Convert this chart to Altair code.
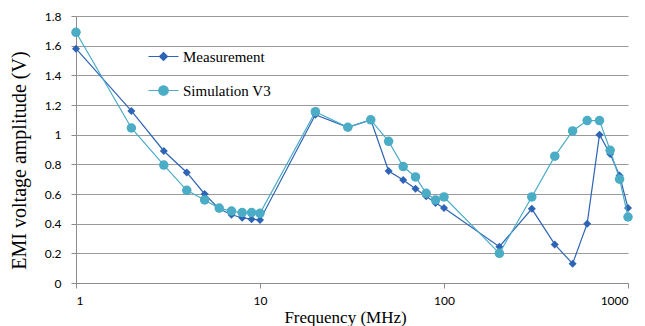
import altair as alt
import pandas as pd

freq = [1, 2, 3, 4, 5, 6, 7, 8, 9, 10, 20, 30, 40, 50, 60, 70, 80, 90, 100,
        200, 300, 400, 500, 600, 700, 800, 900, 1000]
measurement = [1.58, 1.16, 0.89, 0.745, 0.60, 0.50, 0.46, 0.44, 0.43, 0.425,
               1.135, 1.05, 1.10, 0.755, 0.695, 0.635, 0.585, 0.54, 0.505,
               0.245, 0.50, 0.26, 0.13, 0.40, 1.00, 0.87, 0.725, 0.505]
simulation = [1.69, 1.045, 0.795, 0.625, 0.56, 0.505, 0.485, 0.475, 0.475, 0.47,
              1.155, 1.05, 1.10, 0.955, 0.785, 0.715, 0.605, 0.56, 0.58,
              0.20, 0.58, 0.855, 1.025, 1.095, 1.095, 0.895, 0.70, 0.445]
series_names = ["Measurement", "Simulation V3"]
colors = ["#2E64B4", "#4BACC6"]
x_ticks = [1, 10, 100, 1000]
y_ticks = [0, 0.2, 0.4, 0.6, 0.8, 1.0, 1.2, 1.4, 1.6, 1.8]

rows = []
for f, m in zip(freq, measurement):
    rows.append({"freq": f, "value": m, "series": series_names[0]})
for f, s in zip(freq, simulation):
    rows.append({"freq": f, "value": s, "series": series_names[1]})
df = pd.DataFrame(rows)

x = alt.X("freq:Q", scale=alt.Scale(type="log", domain=[1, 1000]),
          axis=alt.Axis(values=x_ticks, format="~g", title="Frequency (MHz)",
                        grid=False, tickSize=5, labelPadding=7,
                        titleX=269, titleY=39, titleBaseline="alphabetic",
                        titleAlign="center", titleFontSize=17,
                        titleFont="Liberation Serif"))
y = alt.Y("value:Q", scale=alt.Scale(domain=[0, 1.8]),
          axis=alt.Axis(values=y_ticks, format="~g", title="EMI voltage amplitude (V)",
                        grid=True, tickSize=5, labelPadding=10,
                        titleX=-57, titleY=144, titleBaseline="middle",
                        titleAlign="center", titleAngle=270, titleFontSize=20,
                        titleFont="Liberation Serif"))
color = alt.Color("series:N", scale=alt.Scale(domain=series_names, range=colors), legend=None)

base = alt.Chart(df)

layers = []
marker_shapes = ["diamond", "circle"]
marker_sizes = [64, 90]
for name, shp, sz in zip(series_names, marker_shapes, marker_sizes):
    sub = base.transform_filter(alt.datum.series == name)
    layers.append(sub.mark_line(strokeWidth=1.2).encode(x=x, y=y, color=color))
    layers.append(sub.mark_point(filled=True, shape=shp, size=sz, opacity=1).encode(x=x, y=y, color=color))

diamond_path = "M-3,0L3,0M0,-0.8L0.8,0L0,0.8L-0.8,0Z"
circle_path = "M-3,0L3,0M0.95,0A0.95,0.95,0,1,1,-0.95,0A0.95,0.95,0,1,1,0.95,0Z"

leg = alt.Legend(title=None, orient="none", legendX=80, legendY=33)
legend_layer = base.transform_filter("datum.value < -1").mark_point(
    filled=True, opacity=1, strokeWidth=1.2
).encode(
    fill=alt.Fill("series:N", scale=alt.Scale(domain=series_names, range=colors), legend=leg),
    stroke=alt.Stroke("series:N", scale=alt.Scale(domain=series_names, range=colors), legend=leg),
    shape=alt.Shape("series:N", scale=alt.Scale(domain=series_names, range=[diamond_path, circle_path]), legend=leg),
)
layers.append(legend_layer)

chart = alt.layer(*layers).resolve_scale(
    fill="independent", stroke="independent", shape="independent"
).properties(
    width=552, height=267,
    padding={"left": 68, "top": 8, "right": 9, "bottom": 43},
    autosize=alt.AutoSizeParams(type="none"),
).configure_view(strokeWidth=0).configure_axis(
    domainColor="#8c8c8c", tickColor="#8c8c8c", gridColor="#9a9a9a",
    labelFont="Lato", labelFontSize=12, labelColor="#000000",
    titleFont="Liberation Serif", titleFontWeight="normal",
    titleColor="#000000",
).configure_legend(
    symbolSize=100, symbolStrokeWidth=1.2, symbolOpacity=1,
    labelFont="Liberation Serif", labelFontSize=15, labelColor="#000000",
    labelOffset=12, rowPadding=18, padding=0, labelLimit=300,
)

chart.save("out.html", embed_options={"renderer": "svg", "actions": False})
